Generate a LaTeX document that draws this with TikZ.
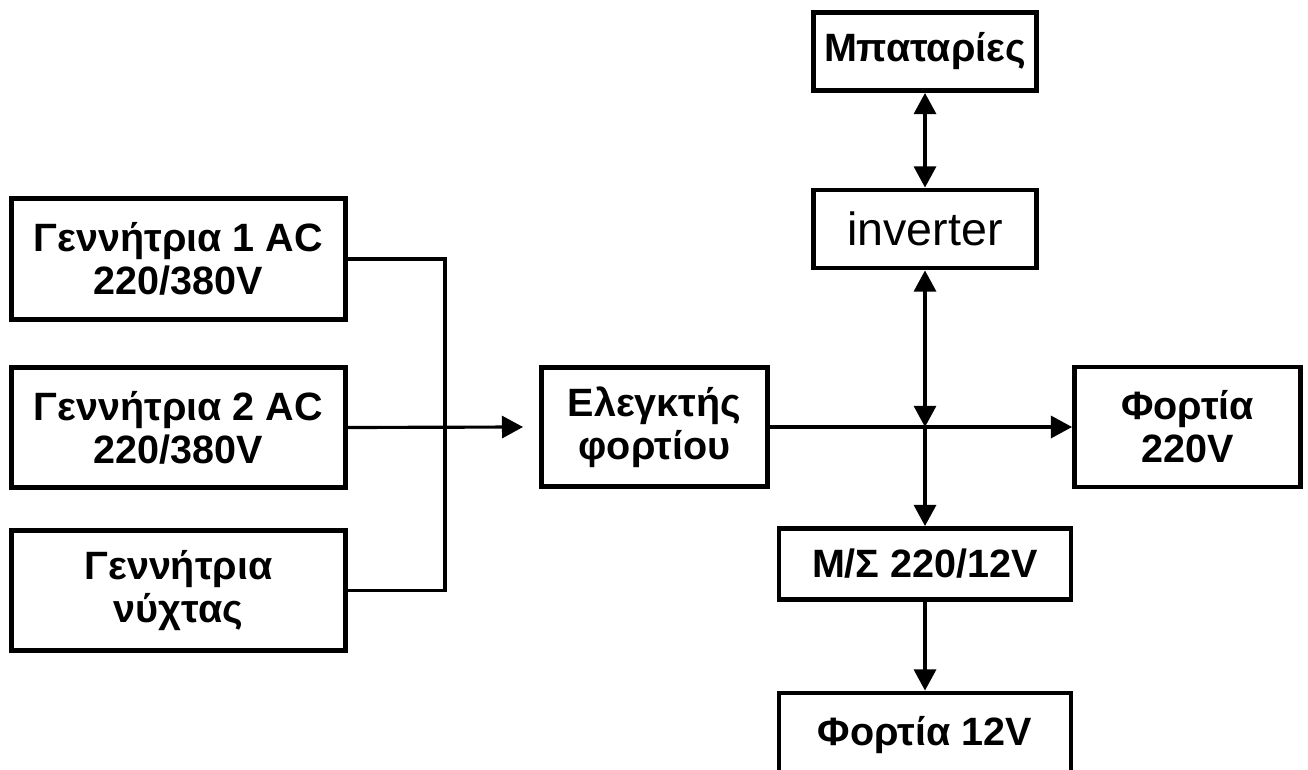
\documentclass[tikz,border=0pt]{standalone}
\usepackage{fontspec}
\setmainfont{Liberation Sans}
\usetikzlibrary{arrows.meta, positioning, calc}

\begin{document}
\begin{tikzpicture}[x=0.02cm, y=-0.02cm,
  blk/.style={draw, line width=2.8pt, align=center, inner sep=0pt,
              font=\fontsize{22.5}{24.5}\selectfont\bfseries},
  wire/.style={line width=1.8pt},
  lnk/.style={wire, -{Triangle[length=12pt, width=12.5pt]}},
  dbl/.style={wire, {Triangle[length=12pt, width=12.5pt]}-{Triangle[length=12pt, width=12.5pt]}}]
\useasboundingbox (0,0) rectangle (1308,770);
% generators
\node[blk, minimum width=6.68cm, minimum height=2.42cm] (gen1) at (178.5,259)
    {Γεννήτρια 1 AC\\220/380V};
\node[blk, minimum width=6.68cm, minimum height=2.4cm] (gen2) at (178.5,427.5)
    {Γεννήτρια 2 AC\\220/380V};
\node[blk, minimum width=6.68cm, minimum height=2.4cm] (gen3) at (178.5,590.5)
    {Γεννήτρια\\νύχτας};
% controller and loads
\node[blk, minimum width=4.52cm, minimum height=2.38cm] (ctrl) at (654.5,427)
    {Ελεγκτής\\φορτίου};
\node[blk, minimum width=4.52cm, minimum height=2.4cm] (load220) at (1187.5,427)
    {Φορτία\\220V};
\node[blk, minimum width=4.46cm, minimum height=1.56cm] (batt) at (925,51.5)
    {Μπαταρίες};
\node[blk, minimum width=4.46cm, minimum height=1.56cm,
      font=\fontsize{26.5}{30}\selectfont\mdseries] (inv) at (925,229)
    {inverter};
\node[blk, minimum width=5.84cm, minimum height=1.42cm] (ms) at (925,564)
    {Μ/Σ 220/12V};
\node[blk, minimum width=5.84cm, minimum height=1.68cm] (load12) at (925,735)
    {Φορτία 12V};
% connectors
\coordinate (bus) at (445,427);
\coordinate (ctrlin) at ($(ctrl.west)+(-16,0)$);
\coordinate (jn) at (inv.south |- ctrl.east);
\draw[wire] (gen1.east) -| (bus |- gen3.east) -- (gen3.east);
\draw[lnk] (gen2.east) -- (ctrlin);
\draw[lnk] (ctrl.east) -- (load220.west);
\draw[dbl] (batt.south) -- (inv.north);
\draw[dbl] (inv.south) -- (jn);
\draw[lnk] (jn) -- (ms.north);
\draw[lnk] (ms.south) -- (load12.north);
\end{tikzpicture}
\end{document}
